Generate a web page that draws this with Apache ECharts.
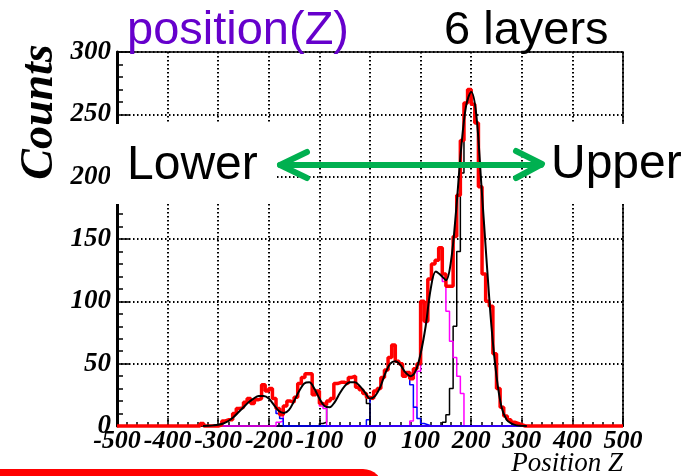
<!DOCTYPE html>
<html>
<head>
<meta charset="utf-8">
<script src="https://cdn.jsdelivr.net/npm/echarts/dist/echarts.min.js"></script>
<style>
  html, body { margin: 0; padding: 0; background: #fff; }
  #chart { width: 693px; height: 476px; }
</style>
</head>
<body>
<div id="chart"></div>
<script>
// Histogram of reconstructed Z position: 140 bins over [-500, 500]
const binLow = -500;
const binHigh = 500;
const redCounts = [
  0, 0, 0, 0, 0, 0, 0, 0, 0, 0, 0, 0, 0, 0, 0, 0, 0, 0, 0, 0, 0, 0, 0, 2, 0, 0, 0, 0,
  1, 4, 5, 5, 10, 14, 15, 19, 22, 18, 21, 22, 33, 28, 30, 22, 14, 9, 16, 20, 19, 23,
  34, 39, 42, 42, 25, 28, 18, 17, 20, 22, 34, 35, 35, 34, 39, 40, 31, 29, 26, 23,
  22, 28, 30, 39, 45, 55, 65, 52, 50, 40, 43, 38, 46, 50, 100, 84, 118, 130, 133, 143,
  122, 112, 112, 152, 185, 229, 259, 270, 258, 243, 192, 122, 100, 96, 58, 30, 15, 8, 5, 3,
  2, 1,
  0, 0, 0, 0, 0, 0, 0, 0, 0, 0, 0, 0, 0, 0, 0, 0, 0, 0, 0, 0, 0, 0, 0, 0, 0, 0, 0, 0
];

// Per-layer contributions, histogrammed over [-300, 300] with the same bin width.
// "first" is the index (in the full 140-bin axis) of the first listed bin.
const compLow = -300;
const compHigh = 300;
const layer1 = { first: 28, counts: [1, 4, 5, 5, 10, 14, 15, 19, 22, 18, 21, 22, 33, 28, 30, 22, 10, 6] };
const layer2 = { first: 44, counts: [3, 4, 16, 20, 19, 23, 34, 39, 42, 42, 25, 28, 16, 14] };
const layer3 = { first: 56, counts: [2, 3, 20, 22, 34, 35, 35, 34, 39, 40, 31, 29, 26, 18] };
const layer4 = { first: 69, counts: [5, 22, 28, 30, 39, 45, 55, 65, 52, 50, 40, 43, 33, 15, 6, 2, 1] };
const layer5 = { first: 81, counts: [4, 15, 44, 98, 83, 118, 130, 133, 143, 116, 92, 68, 55, 40, 26] };
const layer6 = { first: 90, counts: [3, 9, 30, 80, 140, 203, 259, 270, 258, 243, 192, 122, 100, 96, 58, 30, 15, 8, 5, 3, 2, 1] };

// Fitted sum of six gaussians, sampled along Z
const fitZ = [
  -330, -320, -310, -300, -290, -280, -270, -260, -250, -240, -230, -220, -210, -200, -190, -180, -170,
  -160, -150, -140, -130, -120, -110, -100, -90, -80, -70, -60, -50, -40, -30, -20, -10, 0,
  10, 20, 30, 40, 50, 60, 70, 80, 90, 100, 110, 120, 130, 140, 150, 160, 170,
  180, 190, 200, 210, 220, 230, 240, 250, 260, 270, 280, 290, 300, 310
];
const fitCounts = [
  0, 0.2, 0.5, 1, 2, 4, 7, 11, 15, 19, 22, 24, 24, 22, 17, 12, 10.5,
  13, 20, 28, 34, 35, 30, 22, 16, 15, 19, 26, 32, 35, 35, 32, 27, 22,
  24, 31, 42, 50, 52, 49, 43, 40, 44, 58, 80, 110, 124, 121, 117, 132, 172,
  222, 257, 268, 250, 194, 135, 80, 40, 15, 5, 2, 0.5, 0.1, 0
];

const xTicks = { min: -500, max: 500, step: 100 };
const yTicks = { min: 0, max: 300, step: 50 };

const nBins = redCounts.length;
const binWidth = (binHigh - binLow) / nBins;
const compFirstBin = Math.round((compLow - binLow) / binWidth);
const compBins = Math.round((compHigh - compLow) / binWidth);

function layerFull(layer) {
  const out = new Array(compBins).fill(0);
  layer.counts.forEach((v, i) => { out[layer.first - compFirstBin + i] = v; });
  return out;
}

// Points at the left edge of every bin plus the closing edge, drawn as steps
function stepPoints(low, values) {
  const pts = values.map((v, i) => [low + i * binWidth, v]);
  pts.push([low + values.length * binWidth, values[values.length - 1]]);
  return pts;
}

function histSeries(low, values, color, width, z) {
  return {
    type: 'line', step: 'end', symbol: 'none', clip: false, silent: true,
    data: stepPoints(low, values),
    lineStyle: { color: color, width: width },
    z: z, animation: false
  };
}

function tickFont(size) {
  return {
    fontFamily: '"Liberation Serif", "DejaVu Serif", serif', fontStyle: 'italic', fontWeight: 'bold',
    fontSize: size, color: '#000', showMinLabel: true, showMaxLabel: true, hideOverlap: false
  };
}
const dotted = { color: '#000', width: 2, type: [1.5, 2.5] };

const chart = echarts.init(document.getElementById('chart'), null, { renderer: 'canvas' });

const option = {
  backgroundColor: '#fff',
  animation: false,
  grid: {
    left: 117, right: 70, top: 52, bottom: 50,
    show: true, borderColor: '#000', borderWidth: 1.5, backgroundColor: 'transparent'
  },
  xAxis: {
    type: 'value', min: xTicks.min, max: xTicks.max, interval: xTicks.step,
    axisLine: { show: true, onZero: false, lineStyle: { color: '#000', width: 2 } },
    axisTick: { show: true, inside: true, length: 8, lineStyle: { color: '#000', width: 1.5 } },
    minorTick: { show: true, splitNumber: 5, length: 4, lineStyle: { color: '#000', width: 1.5 } },
    splitLine: { show: true, lineStyle: dotted },
    axisLabel: Object.assign({ margin: 2 }, tickFont(26))
  },
  yAxis: {
    type: 'value', min: yTicks.min, max: yTicks.max, interval: yTicks.step,
    axisLine: { show: true, onZero: false, lineStyle: { color: '#000', width: 3 } },
    axisTick: { show: true, inside: true, length: 12, lineStyle: { color: '#000', width: 1.5 } },
    minorTick: { show: true, splitNumber: 5, length: 6, lineStyle: { color: '#000', width: 1.5 } },
    splitLine: { show: true, lineStyle: dotted },
    axisLabel: Object.assign({ margin: 6 }, tickFont(27))
  },
  series: [
    // layer contributions sit beneath the total; blue layer 1 is drawn last of them
    histSeries(compLow, layerFull(layer6), '#000000', 1.5, 2),
    histSeries(compLow, layerFull(layer5), '#ff00ff', 1.5, 2),
    histSeries(compLow, layerFull(layer4), '#0000ff', 1.5, 2),
    histSeries(compLow, layerFull(layer3), '#000000', 1.5, 2),
    histSeries(compLow, layerFull(layer2), '#ff00ff', 1.5, 2),
    histSeries(compLow, layerFull(layer1), '#0000ff', 1.5, 2),
    histSeries(binLow, redCounts, '#ff0000', 3.5, 3),
    {
      type: 'line', symbol: 'none', smooth: 0.35, clip: false, silent: true,
      data: fitZ.map((z, i) => [z, fitCounts[i]]),
      lineStyle: { color: '#000', width: 2 }, z: 5, animation: false
    }
  ],
  graphic: [
    // label boxes
    { type: 'rect', z: 100, shape: { x: 110, y: 124, width: 167, height: 80 }, style: { fill: '#fff' } },
    { type: 'rect', z: 100, shape: { x: 533, y: 124, width: 160, height: 80 }, style: { fill: '#fff' } },
    { type: 'text', z: 101, style: { text: 'Lower', x: 127, y: 166, font: '48px "Liberation Sans", Arial, sans-serif', fill: '#000', textAlign: 'left', textVerticalAlign: 'middle' } },
    { type: 'text', z: 101, style: { text: 'Upper', x: 551, y: 165, font: '48px "Liberation Sans", Arial, sans-serif', fill: '#000', textAlign: 'left', textVerticalAlign: 'middle' } },
    // double arrow
    { type: 'polyline', z: 101, shape: { points: [[280, 165], [541, 165]] }, style: { stroke: '#00b050', lineWidth: 6, lineCap: 'round', fill: null } },
    { type: 'polyline', z: 101, shape: { points: [[307, 152], [280, 165], [307, 178]] }, style: { stroke: '#00b050', lineWidth: 6, lineCap: 'round', lineJoin: 'round', fill: null } },
    { type: 'polyline', z: 101, shape: { points: [[516, 151], [542, 164], [516, 178]] }, style: { stroke: '#00b050', lineWidth: 6, lineCap: 'round', lineJoin: 'round', fill: null } },
    // headings
    { type: 'text', z: 101, style: { text: 'position(Z)', x: 127, y: 31, font: '47px "Liberation Sans", Arial, sans-serif', fill: '#6600cc', textAlign: 'left', textVerticalAlign: 'middle' } },
    { type: 'text', z: 101, style: { text: '6 layers', x: 444, y: 31, font: '47px "Liberation Sans", Arial, sans-serif', fill: '#000', textAlign: 'left', textVerticalAlign: 'middle' } },
    // axis titles
    { type: 'text', z: 101, x: 40, y: 112, rotation: Math.PI / 2, style: { text: 'Counts', x: 0, y: 0, font: 'italic bold 46px "Liberation Serif", "DejaVu Serif", serif', fill: '#000', textAlign: 'center', textVerticalAlign: 'middle' } },
    { type: 'text', z: 101, style: { text: 'Position Z', x: 623, y: 464, font: 'italic 27px "Liberation Serif", "DejaVu Serif", serif', fill: '#000', textAlign: 'right', textVerticalAlign: 'middle' } },
    // footer band
    { type: 'rect', z: 99, shape: { x: -20, y: 469, width: 403, height: 30, r: [0, 20, 0, 0] }, style: { fill: '#ff0000' } }
  ]
};

chart.setOption(option);
</script>
</body>
</html>
